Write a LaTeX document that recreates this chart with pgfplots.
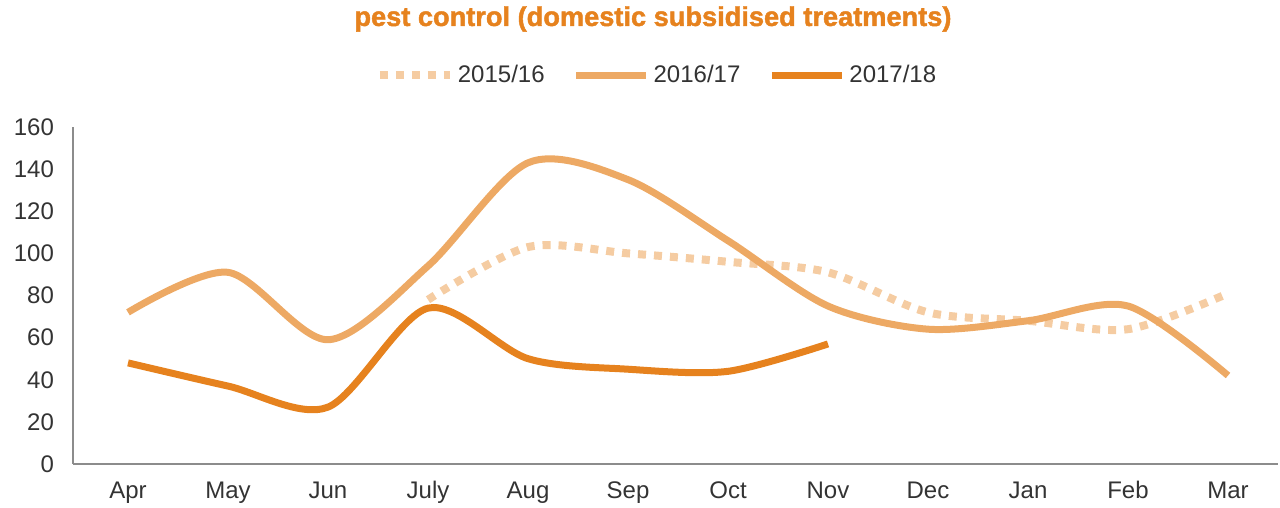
\documentclass[border=0pt]{standalone}
\usepackage{pgfplots}
\pgfplotsset{compat=1.18}
\usepackage{fontspec}
\setmainfont{Liberation Sans}
\newfontfamily\heavyfont[FakeBold=1.6]{Liberation Sans Bold}

\definecolor{darkor}{HTML}{E6821E}
\definecolor{midor}{HTML}{EDA964}
\definecolor{lightor}{HTML}{F5CCA2}
\definecolor{txt}{HTML}{333333}
\definecolor{axgray}{HTML}{8C8C8C}

\begin{document}
\begin{tikzpicture}
  \useasboundingbox (0,0) rectangle (640pt,254pt);
  \begin{axis}[
      at={(36.5pt,22pt)}, anchor=south west,
      scale only axis,
      width=602.5pt, height=168.5pt,
      xmin=-0.55, xmax=11.5,
      ymin=0, ymax=160,
      ytick={0,20,...,160},
      xtick={0,...,11},
      xticklabels={Apr,May,Jun,July,Aug,Sep,Oct,Nov,Dec,Jan,Feb,Mar},
      axis x line*=bottom, axis y line*=left,
      axis line style={draw=axgray, line width=0.75pt, -},
      major tick length=0pt,
      tick label style={font=\fontsize{12}{14}\selectfont, text=txt},
      xticklabel style={anchor=base, yshift=-17.5pt},
      yticklabel style={xshift=-6pt},
      /pgf/number format/assume math mode=true,
      title={pest control (domestic subsidised treatments)},
      title style={at={(0.4813,1.285)}, anchor=center,
        font=\heavyfont\fontsize{13.6}{16}\selectfont, text=darkor},
      legend columns=3,
      legend style={at={(0.4855,1.154)}, anchor=center, draw=none,
        font=\fontsize{12}{14}\selectfont, text=txt,
        /tikz/every even column/.append style={column sep=12pt}},
      legend image code/.code={\draw[#1] (0pt,0pt) -- (35pt,0pt);},
    ]
    \addplot[lightor, line width=4pt, dash pattern=on 4pt off 4pt, smooth]
      coordinates {(3,78) (4,103) (5,100) (6,96) (7,91) (8,72) (9,68) (10,64) (11,81)};
    \addplot[midor, line width=3.5pt, smooth]
      coordinates {(0,72) (1,91) (2,59) (3,94) (4,143) (5,135) (6,106) (7,75) (8,64) (9,68) (10,75) (11,42)};
    \addplot[darkor, line width=3.5pt, smooth]
      coordinates {(0,48) (1,37) (2,27) (3,74) (4,50) (5,45) (6,44) (7,57)};
    \legend{2015/16, 2016/17, 2017/18}
  \end{axis}
\end{tikzpicture}
\end{document}
